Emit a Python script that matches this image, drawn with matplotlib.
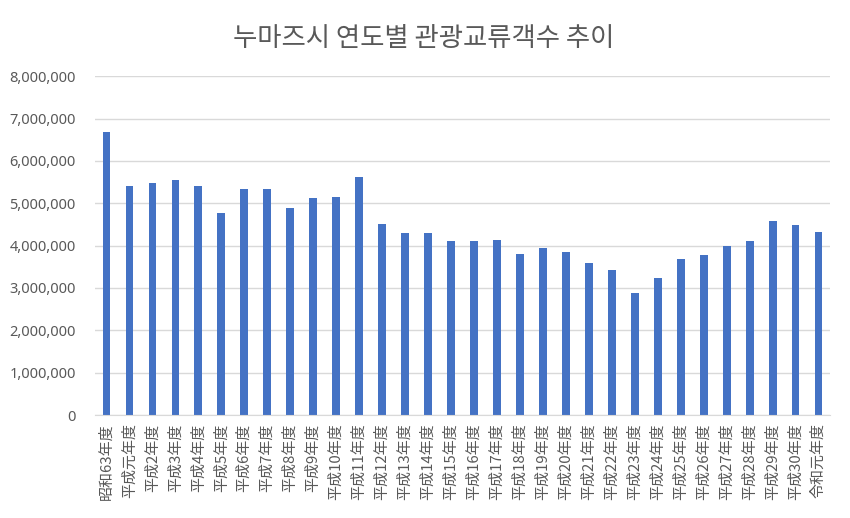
import matplotlib
matplotlib.use("Agg")
import matplotlib.pyplot as plt
from matplotlib.ticker import FuncFormatter, MultipleLocator

# 연도 (x축 라벨)
years = ["昭和63年度", "平成元年度"] + [f"平成{i}年度" for i in range(2, 31)] + ["令和元年度"]

# 관광교류객수 (그림에서 읽은 추정값)
visitors = [
    6680000, 5400000, 5480000, 5540000, 5400000, 4770000, 5340000, 5340000,
    4890000, 5120000, 5150000, 5620000, 4520000, 4290000, 4290000, 4110000,
    4110000, 4140000, 3810000, 3940000, 3840000, 3590000, 3430000, 2890000,
    3230000, 3680000, 3780000, 4000000, 4110000, 4590000, 4480000, 4330000,
]

title = "누마즈시 연도별 관광교류객수 추이"

text_color = "#595959"
grid_color = "#d9d9d9"
bar_color = "#4472C4"

fig = plt.figure(figsize=(8.5, 5.18), dpi=100)
ax = fig.add_axes([0.1118, 0.1988, 0.8647, 0.6542])

x = list(range(len(years)))
ax.bar(x, visitors, width=0.34, color=bar_color, zorder=3)

ax.set_xlim(-0.5, len(years) - 0.5)
ax.set_ylim(0, 8000000)
ax.yaxis.set_major_locator(MultipleLocator(1000000))
ax.yaxis.set_major_formatter(FuncFormatter(lambda v, p: f"{int(v):,}"))
ax.grid(axis="y", color=grid_color, linewidth=1, zorder=0)

for side in ["top", "right", "left"]:
    ax.spines[side].set_visible(False)
ax.spines["bottom"].set_color(grid_color)
ax.spines["bottom"].set_zorder(4)

ax.set_xticks(x)
ax.set_xticklabels(years, rotation=90, fontsize=10.8, color=text_color,
                   family=["Noto Sans CJK JP", "DejaVu Sans"])
ax.tick_params(axis="x", length=0, pad=6)
ax.tick_params(axis="y", length=0, pad=14, labelsize=10.5, labelcolor=text_color)
for lbl in ax.get_yticklabels():
    lbl.set_family(["Noto Sans", "DejaVu Sans"])

fig.text(0.499, 0.926, title, ha="center", va="center", fontsize=19,
         color=text_color, family=["Noto Sans CJK KR", "DejaVu Sans"])

fig.savefig("out.png", dpi=100)
plt.close(fig)
